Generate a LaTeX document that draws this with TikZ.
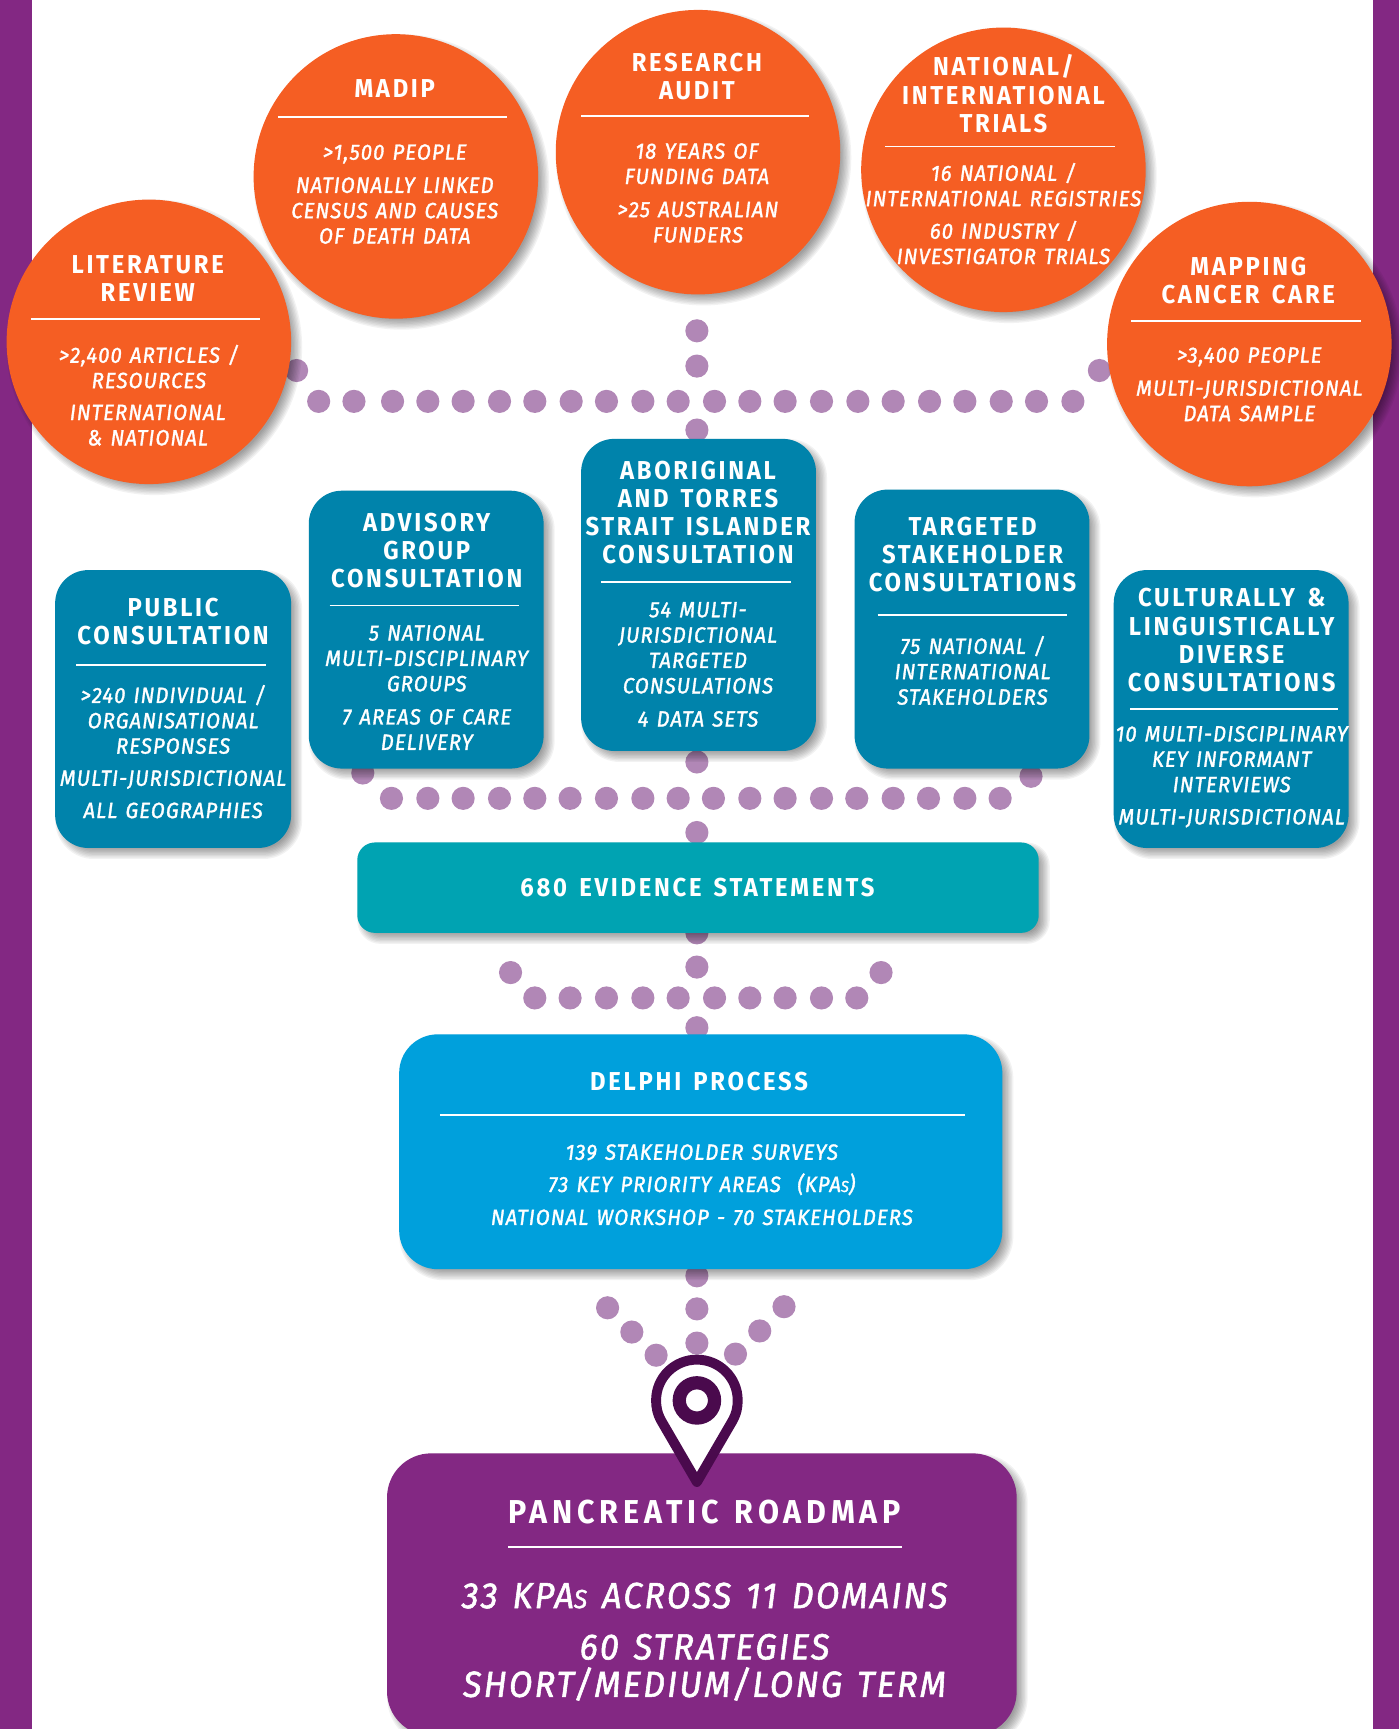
\documentclass[tikz,border=0pt]{standalone}
\usepackage{fontspec}
\newfontfamily\ttlf[FakeStretch=0.92,LetterSpace=10.5,WordSpace=1.45]{Fira Sans}
\newfontfamily\ttlbigf[FakeStretch=0.92,LetterSpace=15,WordSpace=1.3]{Fira Sans}
\newfontfamily\bodyf[FakeStretch=0.92,LetterSpace=5,WordSpace=1.3,FakeBold=1.5]{Fira Sans}
\newfontfamily\bigbodyf[FakeStretch=0.94,LetterSpace=6,WordSpace=1.35,FakeBold=1.5]{Fira Sans}
\definecolor{barpurple}{HTML}{832883}
\definecolor{orng}{HTML}{F55E23}
\definecolor{tealb}{HTML}{0083AB}
\definecolor{evid}{HTML}{00A3B2}
\definecolor{delph}{HTML}{00A0DC}
\definecolor{dotc}{HTML}{B187B6}
\definecolor{pinc}{HTML}{4A0A4D}
\newcommand{\smS}{{\fontsize{0.72em}{1em}\selectfont S}}
\tikzset{
  shlayer/.style={fill=black,fill opacity=.05},
  orangecirc/.style={circle,fill=orng,minimum size=258pt,inner sep=0pt},
  ttl/.style={text=white,align=center,inner sep=0pt,font=\ttlf\bfseries\fontsize{23.5}{25.5}\selectfont},
  bodytxt/.style={text=white,align=center,inner sep=0pt,font=\bodyf\itshape\fontsize{20}{23}\selectfont},
  bigtxt/.style={text=white,align=center,inner sep=0pt,font=\bigbodyf\itshape\fontsize{33}{34}\selectfont},
  rulew/.style={draw=white,line width=1.5pt},
  dotf/.style={fill=dotc}
}
% name, x, y
\newcommand{\orangeball}[3]{%
  \foreach \g in {-5,-3.75,-2.5,-1.25,0,1.25,2.5,3.75,5}{
    \pgfmathsetmacro\rr{129+\g}
    \fill[shlayer] ({#2+5},{#3+5}) circle (\rr pt);
  }
  \node[orangecirc] (#1) at (#2,#3) {};}
% name, x, y, w, h, radius, colour
\newcommand{\softbox}[7]{%
  \foreach \g in {-5,-3.75,-2.5,-1.25,0,1.25,2.5,3.75,5}{
    \pgfmathsetmacro\rr{#6+\g}
    \fill[shlayer,rounded corners=\rr pt] ({#2-#4/2+5-\g},{#3-#5/2+5-\g}) rectangle ({#2+#4/2+5+\g},{#3+#5/2+5+\g});
  }
  \node[rectangle,fill=#7,rounded corners=#6pt,minimum width=#4pt,minimum height=#5pt,inner sep=0pt] (#1) at (#2,#3) {};}
\begin{document}
\begin{tikzpicture}[x=1pt,y=-1pt]
\useasboundingbox (0,0) rectangle (1269,1568);
\clip (0,0) rectangle (1269,1568);
% side bars
\fill[barpurple] (0,0) rectangle (29,1568);
\fill[barpurple] (1245,0) rectangle (1269,1568);
% dots
\foreach \x in {289,321,356,388,420,453,485,518,550,583,615,648,680,712,745,778,810,843,875,908,940,973}
  \fill[dotf] (\x,364) ellipse (10.5pt and 10.5pt);
\foreach \x/\y in {269/336,997/336,632/300,632/332,632/390,329/701,935/704,632/691,632/755,632/846,463/882,799/882,632/877,632/932,632/1157,632/1187,632/1218,551/1186,573/1208,595/1229,667/1228,689/1207,711/1185}
  \fill[dotf] (\x,\y) ellipse (10.5pt and 10.5pt);
\foreach \x in {355,388,420,453,485,517,550,583,615,647,680,712,745,777,810,842,875,907}
  \fill[dotf] (\x,724) ellipse (10.5pt and 10.5pt);
\foreach \x in {485,517,550,583,615,648,680,712,745,777}
  \fill[dotf] (\x,905) ellipse (10.5pt and 10.5pt);
% circles
\orangeball{madip}{359}{160}
\orangeball{research}{633}{138}
\orangeball{trials}{910}{154}
\orangeball{literature}{135}{310}
\orangeball{mapping}{1133}{312}
% boxes
\softbox{public}{157}{643}{214}{252}{30}{tealb}
\softbox{advisory}{386.5}{571}{213}{252}{30}{tealb}
\softbox{aboriginal}{633.5}{539.5}{213}{283}{30}{tealb}
\softbox{targeted}{881.5}{570.5}{213}{253}{30}{tealb}
\softbox{cald}{1116.5}{643}{213}{252}{30}{tealb}
\softbox{evidence}{633}{805}{618}{82}{16}{evid}
\softbox{delphi}{635.5}{1044.5}{547}{213}{35}{delph}
\softbox{roadmap}{636.5}{1446}{571}{256}{40}{barpurple}
% rules
\foreach \a/\b/\y in {28/236/289,252/460/106,527/734/105,803/1011/133,1026/1234/291,69/241/603,299/471/549,545/717/528,796/968/558,1025/1213/643,399/875/1011}
  \draw[rulew] (\a,\y) -- (\b,\y);
\draw[draw=white,line width=2pt] (461,1403) -- (818,1403);
% circle text
\node[ttl] (t1) at (134,252.5) {LITERATURE\\REVIEW};
\node[bodytxt] (t1a) at (135,332.5) {>2,400 ARTICLES /\\RESOURCES};
\node[bodytxt] (t1b) at (134,385.5) {INTERNATIONAL\\\& NATIONAL};
\node[ttl] (t2) at (358,80) {MADIP};
\node[bodytxt] (t2a) at (358,139.5) {>1,500 PEOPLE};
\node[bodytxt] (t2b) at (358,191) {NATIONALLY LINKED\\CENSUS AND CAUSES\\OF DEATH DATA};
\node[ttl] (t3) at (632,69) {RESEARCH\\AUDIT};
\node[bodytxt] (t3a) at (632,148.5) {18 YEARS OF\\FUNDING DATA};
\node[bodytxt] (t3b) at (633,201.5) {>25 AUSTRALIAN\\FUNDERS};
\node[ttl] (t4) at (910,85) {NATIONAL/\\INTERNATIONAL\\TRIALS};
\node[bodytxt] (t4a) at (910,167.5) {16 NATIONAL /\\INTERNATIONAL REGISTRIES};
\node[bodytxt] (t4b) at (910,220) {60 INDUSTRY /\\INVESTIGATOR TRIALS};
\node[ttl] (t5) at (1132,254.5) {MAPPING\\CANCER CARE};
\node[bodytxt] (t5a) at (1133,323.5) {>3,400 PEOPLE};
\node[bodytxt] (t5b) at (1133,363.5) {MULTI-JURISDICTIONAL\\DATA SAMPLE};
% box text
\node[ttl] (p1) at (157,563.5) {PUBLIC\\CONSULTATION};
\node[bodytxt] (p2) at (157,652.5) {>240 INDIVIDUAL /\\ORGANISATIONAL\\RESPONSES};
\node[bodytxt] (p3) at (157,707) {MULTI-JURISDICTIONAL};
\node[bodytxt] (p4) at (157,735) {ALL GEOGRAPHIES};
\node[ttl] (a1) at (387,499.5) {ADVISORY\\GROUP\\CONSULTATION};
\node[bodytxt] (a2) at (387,597) {5 NATIONAL\\MULTI-DISCIPLINARY\\GROUPS};
\node[bodytxt] (a3) at (387,661.5) {7 AREAS OF CARE\\DELIVERY};
\node[ttl] (b1) at (633,465) {ABORIGINAL\\AND TORRES\\STRAIT ISLANDER\\CONSULTATION};
\node[bodytxt] (b2) at (633,587.5) {54 MULTI-\\JURISDICTIONAL\\TARGETED\\CONSULATIONS};
\node[bodytxt] (b3) at (633,652) {4 DATA SETS};
\node[ttl] (c1) at (882,503) {TARGETED\\STAKEHOLDER\\CONSULTATIONS};
\node[bodytxt] (c2) at (882,608) {75 NATIONAL /\\INTERNATIONAL\\STAKEHOLDERS};
\node[ttl] (d1) at (1117,580.5) {CULTURALLY \&\\LINGUISTICALLY\\DIVERSE\\CONSULTATIONS};
\node[bodytxt] (d2) at (1117,688.5) {10 MULTI-DISCIPLINARY\\KEY INFORMANT\\INTERVIEWS};
\node[bodytxt] (d3) at (1117,742) {MULTI-JURISDICTIONAL};
\node[ttl] (e1) at (632.5,805) {680 EVIDENCE STATEMENTS};
\node[ttl] (f1) at (634,981) {DELPHI PROCESS};
\node[bodytxt] (f2) at (636.5,1045) {139 STAKEHOLDER SURVEYS};
\node[bodytxt] (f3) at (636.5,1074) {73 KEY PRIORITY AREAS\ \ (KPA\smS)};
\node[bodytxt] (f4) at (636.5,1104) {NATIONAL WORKSHOP - 70 STAKEHOLDERS};
\node[ttl,font=\ttlbigf\bfseries\fontsize{30}{34}\selectfont] (g1) at (639,1371) {PANCREATIC ROADMAP};
\node[bigtxt] (g2) at (639,1447) {33 KPA\smS\ ACROSS 11 DOMAINS};
\node[bigtxt] (g3) at (639,1512) {60 STRATEGIES\\SHORT/MEDIUM/LONG TERM};
% location pin
\draw[pinc,fill=white,line width=9pt,line join=round]
  (632,1344) -- (600,1289) .. controls (596,1282) and (595,1276) .. (595,1270)
  .. controls (595,1249) and (612,1233) .. (632,1233)
  .. controls (652,1233) and (669,1249) .. (669,1270)
  .. controls (669,1276) and (668,1282) .. (664,1289) -- cycle;
\draw[pinc,line width=12pt] (632,1270) circle (16pt);
\end{tikzpicture}
\end{document}
